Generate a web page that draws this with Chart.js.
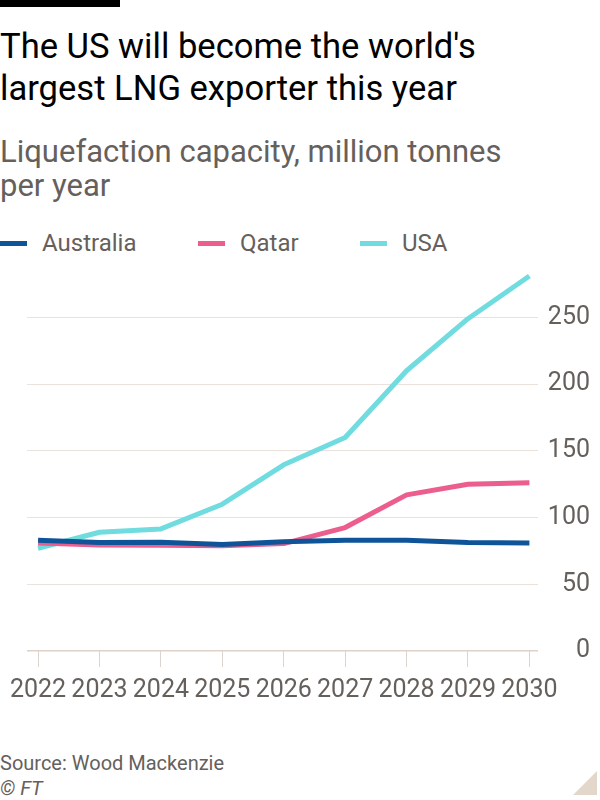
<!DOCTYPE html>
<html>
<head>
<meta charset="utf-8">
<script src="https://cdn.jsdelivr.net/npm/chart.js@4.4.1/dist/chart.umd.min.js"></script>
<style>
  html, body { margin:0; padding:0; background:#fff; }
  body { width:600px; height:800px; position:relative; overflow:hidden; font-family: Roboto, "Noto Sans", sans-serif; }
  .bar { position:absolute; left:0; top:0; width:120px; height:7px; background:#000; }
  .title { position:absolute; left:0; top:25px; font-size:34.6px; line-height:42px; color:#000; white-space:nowrap; }
  .subtitle { position:absolute; left:0; top:135px; font-size:31px; line-height:34px; color:#66605c; white-space:nowrap; }
  .legend { position:absolute; left:0; top:228px; height:30px; display:flex; align-items:center; font-size:24px; color:#66605c; }
  .legend .item { display:flex; align-items:center; position:absolute; top:0; height:30px; white-space:nowrap; }
  .legend .sw { width:27px; height:5px; margin-right:15px; }
  .source { position:absolute; left:0; top:751px; font-size:20px; line-height:24px; color:#66605c; }
  .ft { position:absolute; left:0; top:776px; font-size:20px; line-height:24px; color:#66605c; font-style:italic; }
  .corner { position:absolute; left:573px; top:771px; width:24px; height:24px; background:#e3d6cb; clip-path:polygon(100% 0, 100% 100%, 0 100%); }
  #wrap { position:absolute; left:0; top:244px; width:600px; height:476px; }
</style>
</head>
<body>
<div class="bar"></div>
<div class="title">The US will become the world's<br>largest LNG exporter this year</div>
<div class="subtitle">Liquefaction capacity, million tonnes<br>per year</div>
<div class="legend" id="legend"></div>
<div id="wrap"><canvas id="c" width="600" height="476"></canvas></div>
<div class="source">Source: Wood Mackenzie</div>
<div class="ft">© FT</div>
<div class="corner"></div>
<script>
// ---- data ----
const years = [2022, 2023, 2024, 2025, 2026, 2027, 2028, 2029, 2030];
const australia = [83, 81.3, 81.5, 79.8, 81.8, 83, 83, 81.3, 81];
const qatar = [81, 79.5, 79.3, 78.8, 80.5, 92.5, 117, 125, 126];
const usa = [77, 89, 91.5, 110, 139.5, 160, 210, 249, 281];
const seriesNames = ["Australia", "Qatar", "USA"];
const seriesColors = ["#0f5499", "#eb5e8d", "#70dce0"];
const yTicks = [0, 50, 100, 150, 200, 250];
const xTickLabels = ["2022", "2023", "2024", "2025", "2026", "2027", "2028", "2029", "2030"];

// legend
const legendPos = [0, 198, 360];
const legend = document.getElementById('legend');
seriesNames.forEach((n, i) => {
  const it = document.createElement('div');
  it.className = 'item';
  it.style.left = legendPos[i] + 'px';
  it.innerHTML = '<span class="sw" style="background:' + seriesColors[i] + '"></span><span>' + n + '</span>';
  legend.appendChild(it);
});

const seriesData = [australia, qatar, usa];
const datasets = seriesNames.map((n, i) => ({
  label: n,
  data: years.map((y, j) => ({ x: y, y: seriesData[i][j] })),
  borderColor: seriesColors[i],
  backgroundColor: seriesColors[i],
  borderWidth: 5,
  pointRadius: 0,
  tension: 0,
  borderJoinStyle: 'round',
  borderCapStyle: 'butt',
  order: i
}));

new Chart(document.getElementById('c'), {
  type: 'line',
  data: { datasets },
  options: {
    responsive: false,
    animation: false,
    events: [],
    layout: { padding: { left: 27, right: 10, top: 20, bottom: 0 } },
    plugins: { legend: { display: false }, tooltip: { enabled: false }, title: { display: false } },
    scales: {
      x: {
        type: 'linear',
        min: 2021.82,
        max: 2030.14,
        afterBuildTicks: s => { s.ticks = years.map(v => ({ value: v })); },
        afterFit: s => { s.height = 69; },
        border: { display: false },
        grid: { display: true, drawOnChartArea: false, drawTicks: true, tickLength: 16, tickColor: '#dcd5cf', lineWidth: 1 },
        ticks: {
          padding: 9,
          color: '#66605c',
          font: { family: 'Roboto', size: 25 },
          maxRotation: 0,
          autoSkip: false,
          callback: (v) => { const k = years.indexOf(v); return k >= 0 ? xTickLabels[k] : ''; }
        }
      },
      y: {
        position: 'right',
        min: 0,
        max: 290,
        afterBuildTicks: s => { s.ticks = yTicks.map(v => ({ value: v })); },
        afterFit: s => { s.width = 52; },
        border: { display: false },
        grid: {
          drawTicks: false,
          color: c => (c.tick && c.tick.value === 0) ? '#dcd2ca' : '#ebe2db',
          lineWidth: c => (c.tick && c.tick.value === 0) ? 1.5 : 1
        },
        ticks: {
          padding: 2,
          crossAlign: 'far',
          color: '#66605c',
          font: { family: 'Roboto', size: 25 },
          callback: v => String(v)
        }
      }
    }
  }
});
</script>
</body>
</html>
